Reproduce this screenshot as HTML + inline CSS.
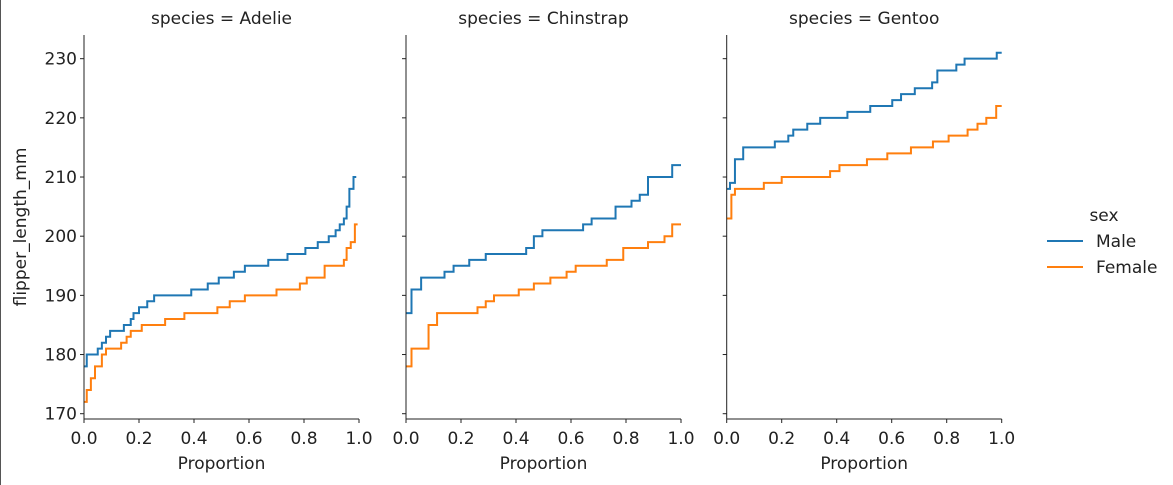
<!DOCTYPE html>
<html><head><meta charset="utf-8"><style>
html,body{margin:0;padding:0;background:#fff;}
svg{display:block;font-family:"DejaVu Sans","Liberation Sans",sans-serif;}
</style></head><body>
<svg id="chart" width="1173" height="485" viewBox="0 0 1173 485" xmlns="http://www.w3.org/2000/svg">
<rect x="0" y="0" width="1173" height="485" fill="#fff"/>
<line x1="0.5" y1="0" x2="0.5" y2="485" stroke="#555" stroke-width="1"/>
<g id="plots"></g>
<g>
<text x="1104" y="221" font-size="17" fill="#222" text-anchor="middle">sex</text>
<line x1="1047" y1="241" x2="1083" y2="241" stroke="#1f77b4" stroke-width="2"/>
<text x="1096" y="247" font-size="17" fill="#222">Male</text>
<line x1="1047" y1="267" x2="1083" y2="267" stroke="#ff7f0e" stroke-width="2"/>
<text x="1096" y="273" font-size="17" fill="#222">Female</text>
</g>
</svg>
<script>
const species = ["Adelie", "Chinstrap", "Gentoo"];
const yTicks = [170, 180, 190, 200, 210, 220, 230];
const xTicks = [0.0, 0.2, 0.4, 0.6, 0.8, 1.0];
const xTickLabels = ["0.0", "0.2", "0.4", "0.6", "0.8", "1.0"];
// step values and the proportion where each step ends
const adelieMaleValues = [178,180,181,182,183,184,185,186,187,188,189,190,191,192,193,194,195,196,197,198,199,200,201,202,203,205,208,210];
const adelieMaleBreaks = [0.01,0.05,0.065,0.08,0.095,0.145,0.17,0.18,0.2,0.23,0.255,0.39,0.45,0.49,0.545,0.585,0.67,0.74,0.805,0.85,0.89,0.915,0.93,0.945,0.955,0.965,0.98,0.99];
const adelieFemaleValues = [172,174,176,178,180,181,182,183,184,185,186,187,188,189,190,191,192,193,195,196,198,199,202];
const adelieFemaleBreaks = [0.01,0.025,0.04,0.065,0.08,0.135,0.155,0.17,0.21,0.295,0.365,0.485,0.53,0.585,0.7,0.785,0.81,0.875,0.945,0.955,0.97,0.985,0.995];
const chinMaleValues = [187,191,193,194,195,196,197,198,200,201,202,203,205,206,207,210,212];
const chinMaleBreaks = [0.02,0.055,0.14,0.173,0.23,0.29,0.437,0.465,0.496,0.644,0.675,0.762,0.82,0.85,0.88,0.968,1.0];
const chinFemaleValues = [178,181,185,187,188,189,190,191,192,193,194,195,196,198,199,200,202];
const chinFemaleBreaks = [0.02,0.082,0.113,0.26,0.29,0.32,0.41,0.465,0.525,0.584,0.617,0.73,0.79,0.88,0.94,0.968,1.0];
const gentooMaleValues = [208,209,213,215,216,217,218,219,220,221,222,223,224,225,226,228,229,230,231];
const gentooMaleBreaks = [0.012,0.03,0.06,0.175,0.224,0.242,0.293,0.34,0.439,0.522,0.602,0.634,0.684,0.747,0.766,0.835,0.865,0.982,1.0];
const gentooFemaleValues = [203,207,208,209,210,211,212,213,214,215,216,217,218,219,220,222];
const gentooFemaleBreaks = [0.017,0.03,0.135,0.2,0.376,0.41,0.51,0.584,0.67,0.75,0.807,0.876,0.912,0.944,0.98,1.0];

const maleSeries = [[adelieMaleValues, adelieMaleBreaks],[chinMaleValues, chinMaleBreaks],[gentooMaleValues, gentooMaleBreaks]];
const femaleSeries = [[adelieFemaleValues, adelieFemaleBreaks],[chinFemaleValues, chinFemaleBreaks],[gentooFemaleValues, gentooFemaleBreaks]];

const NS = "http://www.w3.org/2000/svg";
const panelX0 = [84, 406, 726.7], panelW = 275;
const yTop = 35, yBot = 419;
const FS = 17;
function yScale(v){ return 413.7 - (v - 170) * 5.917; }
function mk(tag, attrs, parent){ const e = document.createElementNS(NS, tag); for (const k in attrs) e.setAttribute(k, attrs[k]); parent.appendChild(e); return e; }
const root = document.getElementById('plots');

species.forEach((sp, i) => {
  const x0 = panelX0[i];
  const xScale = p => x0 + p * panelW;
  const g = mk('g', {}, root);
  
  
  const t = mk('text', {x: x0 + panelW/2, y: 24, 'font-size': FS, fill: '#222', 'text-anchor': 'middle'}, g);
  t.textContent = 'species = ' + sp;
  
  
  [[maleSeries[i], '#1f77b4', 'male'], [femaleSeries[i], '#ff7f0e', 'female']].forEach(([s, col, nm]) => {
    const vals = s[0], br = s[1];
    let d = 'M' + xScale(0) + ',' + yScale(vals[0]);
    for (let k = 0; k < vals.length; k++) {
      d += ' L' + xScale(br[k]) + ',' + yScale(vals[k]);
      if (k + 1 < vals.length) d += ' L' + xScale(br[k]) + ',' + yScale(vals[k+1]);
    }
    const p = mk('path', {d: d, fill: 'none', stroke: col, 'stroke-width': 2}, g);
    
    
  });
  const ay = mk('line', {x1: x0, y1: yTop, x2: x0, y2: yBot, stroke: '#222', 'stroke-width': 1}, g);
  
  
  const ax = mk('line', {x1: x0, y1: yBot, x2: x0 + panelW, y2: yBot, stroke: '#222', 'stroke-width': 1}, g);
  
  
  yTicks.forEach(v => {
    const y = yScale(v);
    const tk = mk('line', {x1: x0 - 4, y1: y, x2: x0, y2: y, stroke: '#222'}, g);
    
    
    if (i === 0) {
      const tl = mk('text', {x: x0 - 7, y: y + 6, 'font-size': FS, fill: '#222', 'text-anchor': 'end'}, g);
      tl.textContent = v;
      
      
    }
  });
  xTicks.forEach((p, k) => {
    const x = xScale(p);
    const tk = mk('line', {x1: x, y1: yBot, x2: x, y2: yBot + 4, stroke: '#222'}, g);
    
    
    const tl = mk('text', {x: x, y: 444, 'font-size': FS, fill: '#222', 'text-anchor': 'middle'}, g);
    tl.textContent = xTickLabels[k];
    
    
  });
  const xl = mk('text', {x: x0 + panelW/2, y: 469, 'font-size': FS, fill: '#222', 'text-anchor': 'middle'}, g);
  xl.textContent = 'Proportion';
  
  
});
const yl = mk('text', {x: 0, y: 0, 'font-size': FS, fill: '#222', 'text-anchor': 'middle', transform: 'translate(26,227) rotate(-90)'}, root);
yl.textContent = 'flipper_length_mm';


</script>
</body></html>
